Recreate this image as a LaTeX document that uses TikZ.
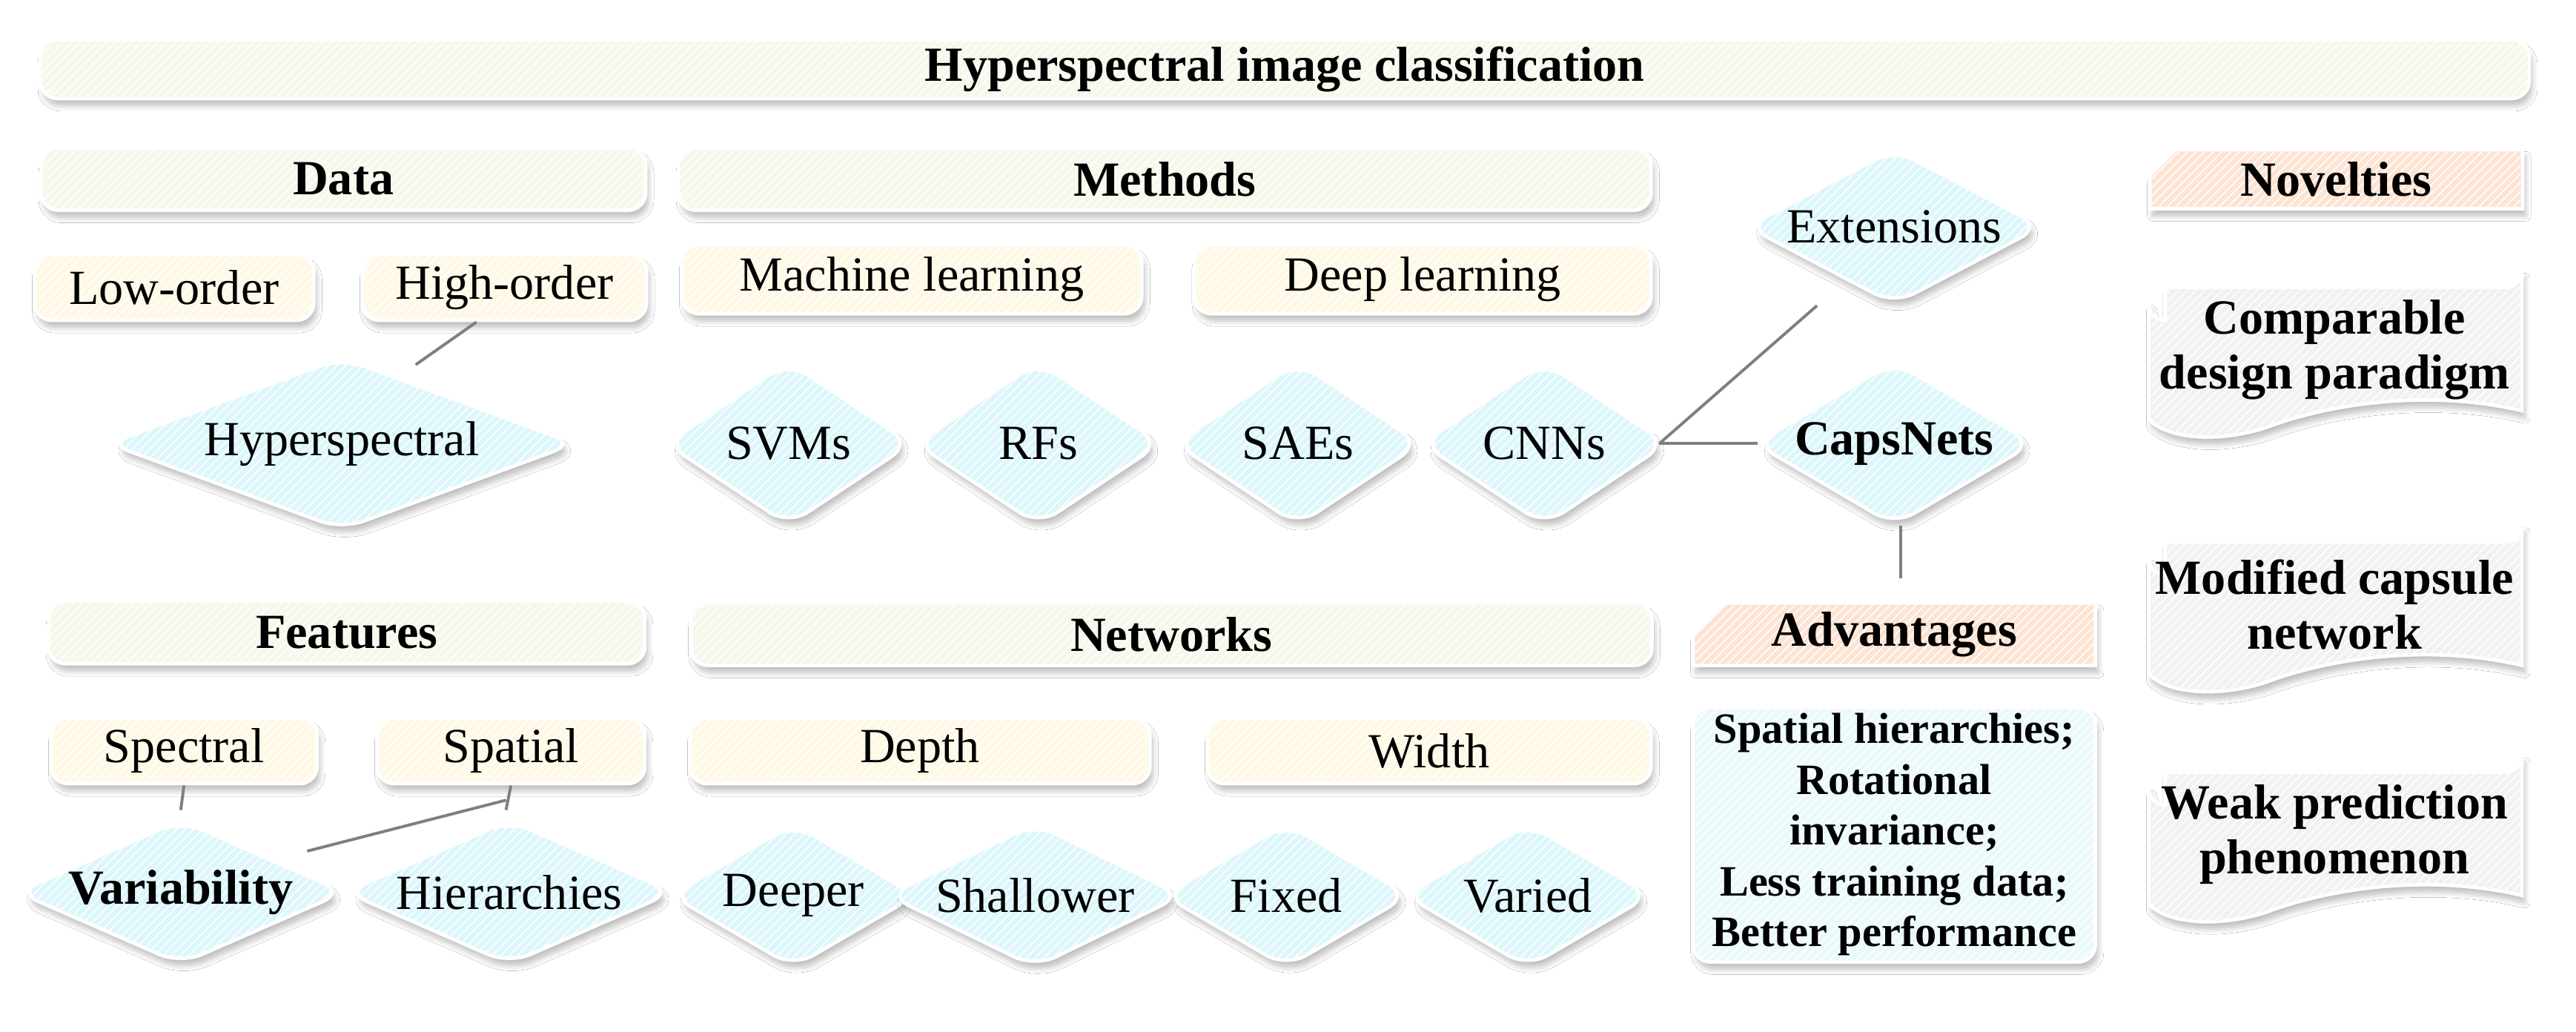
\documentclass[tikz,border=0pt]{standalone}
\usepackage{fontspec}
\setmainfont{Liberation Serif}
\usetikzlibrary{shapes.geometric,shapes.misc,shadows.blur,patterns}
\definecolor{barc}{HTML}{F5F8EA}
\definecolor{creamc}{HTML}{FFF8E4}
\definecolor{cyanc}{HTML}{DCF7FB}
\definecolor{orgc}{HTML}{FCE3D2}
\definecolor{grayc}{HTML}{F3F0F0}
\definecolor{advc}{HTML}{EAF9FC}
\definecolor{edgec}{HTML}{FFFFFF}
\definecolor{linec}{HTML}{7F7F7F}
\begin{document}
\begin{tikzpicture}[x=0.02cm,y=-0.02cm,
  font=\fontsize{17}{19}\selectfont,
  sh/.style={blur shadow={shadow blur steps=8,shadow xshift=1pt,shadow yshift=-2.5pt,shadow opacity=25}},
  hat/.style={postaction={pattern=north east lines,pattern color=white}},
  box/.style={draw=edgec,line width=1.2pt,rounded corners=6pt,sh,hat,inner sep=0pt,align=center},
  bar/.style={box,fill=barc,font=\fontsize{17}{19}\selectfont\bfseries},
  sub/.style={box,fill=creamc},
  dia/.style={diamond,draw=edgec,line width=1.2pt,fill=cyanc,sh,hat,inner sep=0pt,rounded corners=8pt},
  chm/.style={chamfered rectangle,chamfered rectangle corners=north west,chamfered rectangle xsep=16pt,draw=edgec,line width=1.2pt,fill=orgc,sh,hat,inner sep=0pt,font=\fontsize{17}{19}\selectfont\bfseries},
  con/.style={draw=linec,line width=1pt}]
\useasboundingbox (0,0) rectangle (1568,628);
\fill[white] (0,0) rectangle (1568,628);
% bars
\node[bar,minimum width=1515*0.02cm,minimum height=36*0.02cm] (title) at (782,42) {Hyperspectral image classification};
\node[bar,minimum width=368*0.02cm,minimum height=38*0.02cm] (data) at (209,109) {Data};
\node[bar,minimum width=592*0.02cm,minimum height=38*0.02cm] (methods) at (709,109) {Methods};
\node[chm,minimum width=227*0.02cm,minimum height=36*0.02cm] (nov) at (1422,109) {Novelties};
\node[bar,minimum width=363*0.02cm,minimum height=38*0.02cm] (features) at (211,385) {Features};
\node[bar,minimum width=585*0.02cm,minimum height=38*0.02cm] (networks) at (713,386) {Networks};
\node[chm,minimum width=245*0.02cm,minimum height=36*0.02cm] (adv) at (1153,386) {Advantages};
% sub boxes
\node[sub,minimum width=170*0.02cm,minimum height=40*0.02cm] (low) at (106,175) {Low-order};
\node[sub,minimum width=173*0.02cm,minimum height=40*0.02cm] (high) at (307,175) {High-order};
\node[sub,minimum width=280*0.02cm,minimum height=42*0.02cm] (ml) at (555,170) {Machine learning};
\node[sub,minimum width=278*0.02cm,minimum height=42*0.02cm] (dl) at (866,170) {Deep learning};
\node[sub,minimum width=162*0.02cm,minimum height=40*0.02cm] (spectral) at (112,457) {Spectral};
\node[sub,minimum width=163*0.02cm,minimum height=40*0.02cm] (spatial) at (311,457) {Spatial};
\node[sub,minimum width=280*0.02cm,minimum height=40*0.02cm] (depth) at (560,457) {Depth};
\node[sub,minimum width=270*0.02cm,minimum height=40*0.02cm] (width) at (870,457) {Width};
\node[box,fill=advc,minimum width=245*0.02cm,minimum height=155*0.02cm,font=\fontsize{15}{17.6}\selectfont\bfseries] (advtext) at (1153,508)
  {Spatial hierarchies;\\Rotational\\invariance;\\Less training data;\\Better performance};
% diamonds
\node[dia,shape aspect=2.7,minimum width=285*0.02cm,minimum height=105*0.02cm] (hyper) at (208,270) {Hyperspectral};
\node[dia,shape aspect=1.8,minimum width=150*0.02cm,minimum height=100*0.02cm] (svm) at (480,270) {SVMs};
\node[dia,shape aspect=1.8,minimum width=150*0.02cm,minimum height=100*0.02cm] (rf) at (632,270) {RFs};
\node[dia,shape aspect=1.8,minimum width=150*0.02cm,minimum height=100*0.02cm] (sae) at (790,270) {SAEs};
\node[dia,shape aspect=1.8,minimum width=150*0.02cm,minimum height=100*0.02cm] (cnn) at (940,270) {CNNs};
\node[dia,shape aspect=1.8,minimum width=170*0.02cm,minimum height=100*0.02cm,font=\fontsize{17}{19}\selectfont\bfseries] (caps) at (1153,270) {CapsNets};
\node[dia,shape aspect=1.9,minimum width=180*0.02cm,minimum height=95*0.02cm] (ext) at (1153,138) {Extensions};
\node[dia,shape aspect=2.3,minimum width=200*0.02cm,minimum height=88*0.02cm,font=\fontsize{17}{19}\selectfont\bfseries] (var) at (110,543) {Variability};
\node[dia,shape aspect=2.3,minimum width=200*0.02cm,minimum height=88*0.02cm] (hier) at (310,543) {Hierarchies};
\node[dia,shape aspect=1.8,minimum width=150*0.02cm,minimum height=88*0.02cm] (deep) at (483,545) {Deeper};
\node[dia,shape aspect=2.1,minimum width=180*0.02cm,minimum height=88*0.02cm] (shal) at (630,545) {Shallower};
\node[dia,shape aspect=1.8,minimum width=150*0.02cm,minimum height=88*0.02cm] (fix) at (783,545) {Fixed};
\node[dia,shape aspect=1.8,minimum width=150*0.02cm,minimum height=88*0.02cm] (vari) at (930,545) {Varied};
% novelties with wavy bottom
\tikzset{wave/.style={draw=edgec,line width=1.2pt,fill=grayc,sh,hat}}
\foreach \n/\t/\y in {c1/{Comparable\\design paradigm}/175, c2/{Modified capsule\\network}/330, c3/{Weak prediction\\phenomenon}/470}{
  \draw[wave] (1318,\y) -- (1525,\y) arc(90:0:10) -- (1535,\y+75) .. controls (1480,\y+62) and (1420,\y+70) .. (1380,\y+85) .. controls (1350,\y+95) and (1318,\y+92) .. (1308,\y+80) -- (1308,\y+10) arc(180:90:10) -- cycle;
  \node[align=center,font=\fontsize{17}{19}\selectfont\bfseries] (\n) at (1421,\y+38) {\t};
}
% connectors
\draw[con] (253,222) -- (290,196);
\coordinate (cj) at (1010,270);
\draw[con] (cj) -- (1106,186);
\draw[con] (cj) -- (1070,270);
\draw[con] (1157,320) -- (1157,352);
\draw[con] (spectral.south) -- (110,493);
\draw[con] (spatial.south) -- (308,493);
\draw[con] (308,487) -- (187,518);
\end{tikzpicture}
\end{document}
